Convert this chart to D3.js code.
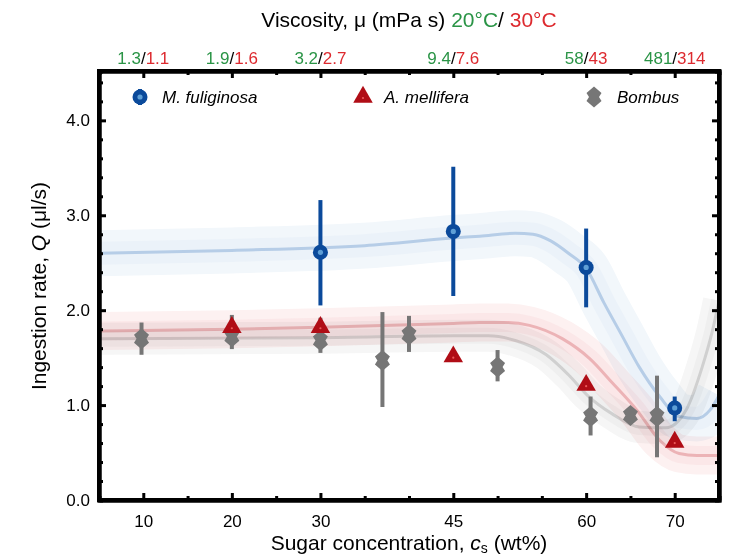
<!DOCTYPE html>
<html>
<head>
<meta charset="utf-8">
<script src="https://cdn.jsdelivr.net/npm/d3@7"></script>
<style>
  body { margin: 0; background: #fff; }
  text { font-family: "Liberation Sans", Arial, sans-serif; }
</style>
</head>
<body>
<script>
// chart values
var xTicks = [10, 20, 30, 45, 60, 70];
var xMinor = [15, 25, 35, 40, 50, 55, 65];
var yTicks = [0, 1, 2, 3, 4];
var visc20 = ["1.3", "1.9", "3.2", "9.4", "58", "481"];
var visc30 = ["1.1", "1.6", "2.7", "7.6", "43", "314"];

// M. fuliginosa
var fulConc = [30, 45, 60, 70];
var fulRate = [2.61, 2.83, 2.45, 0.97];
var fulLo = [2.05, 2.15, 2.03, 0.83];
var fulHi = [3.16, 3.51, 2.86, 1.09];

// A. mellifera
var melConc = [20, 30, 45, 60, 70];
var melRate = [1.82, 1.82, 1.51, 1.21, 0.61];

// Bombus
var bomConc = [9.8, 20, 30, 37, 40, 50, 60.5, 65, 68];
var bomRate = [1.70, 1.72, 1.68, 1.47, 1.74, 1.40, 0.88, 0.89, 0.88];
var bomLo = [1.53, 1.59, 1.55, 0.98, 1.56, 1.25, 0.68, 0.84, 0.45];
var bomHi = [1.87, 1.95, 1.92, 1.98, 1.94, 1.58, 1.09, 0.94, 1.31];

// fitted curves
var fulFitX = [5, 20, 35, 45, 48, 52, 54, 56, 58, 60, 62, 64, 66, 68.3, 70.5, 72.5, 74, 75];
var fulFitY = [2.60, 2.63, 2.68, 2.76, 2.78, 2.81, 2.80, 2.73, 2.60, 2.44, 2.08, 1.74, 1.40, 1.09, 0.88, 0.86, 0.95, 1.10];
var melFitX = [5, 20, 30, 45, 48, 51, 53.6, 57.3, 60.4, 63, 65.7, 68.3, 70.5, 72.5, 75];
var melFitY = [1.78, 1.80, 1.82, 1.86, 1.87, 1.87, 1.84, 1.70, 1.49, 1.23, 0.95, 0.63, 0.49, 0.47, 0.47];
var bomFitX = [5, 30, 45, 49, 52, 55.5, 58, 60.3, 62.9, 66, 69, 71.3, 73.1, 74.2, 75];
var bomFitY = [1.70, 1.71, 1.73, 1.73, 1.68, 1.53, 1.32, 1.09, 0.91, 0.77, 0.76, 0.95, 1.40, 1.76, 2.10];

var blue = "#0b4a9b", red = "#b00d16", gray = "#767676";
var green = "#2a9446", tred = "#dd2a2f";

var width = 736, height = 558;
var plotL = 99, plotR = 719, plotT = 71, plotB = 500;

var svg = d3.select("body").append("svg")
    .attr("width", width)
    .attr("height", height);

var x = d3.scaleLinear().domain([5, 75]).range([plotL, plotR]);
var y = d3.scaleLinear().domain([0, 4.52]).range([plotB, plotT]);

svg.append("clipPath").attr("id", "plot")
  .append("rect")
    .attr("x", plotL).attr("y", plotT)
    .attr("width", plotR - plotL).attr("height", plotB - plotT);

// fits with confidence bands
var line = d3.line().x(d => x(d[0])).y(d => y(d[1])).curve(d3.curveMonotoneX);
var fits = [
  {xs: fulFitX, ys: fulFitY, outer: "#f2f7fb", inner: "#ebf2f9", col: "#b6cde7", w: 46},
  {xs: melFitX, ys: melFitY, outer: "#fdf1f1", inner: "#fbe7e8", col: "#ecb3b6", w: 38},
  {xs: bomFitX, ys: bomFitY, outer: "#f6f6f6", inner: "#efefef", col: "#d0d0d0", w: 32}
];
var fitG = svg.append("g").attr("clip-path", "url(#plot)");
fits.forEach(function(f) {
  var pts = f.xs.map((v, i) => [v, f.ys[i]]);
  var g = fitG.append("g").style("mix-blend-mode", "multiply");
  g.append("path").attr("d", line(pts)).attr("fill", "none")
    .attr("stroke", f.outer).attr("stroke-width", f.w);
  g.append("path").attr("d", line(pts)).attr("fill", "none")
    .attr("stroke", f.inner).attr("stroke-width", f.w * 0.5);
  g.append("path").attr("d", line(pts)).attr("fill", "none")
    .attr("stroke", f.col).attr("stroke-width", 3);
});

// axes
function axisStyle(g) {
  g.select(".domain").attr("stroke", "#000").attr("stroke-width", 4);
  g.selectAll(".tick line").attr("stroke", "#000").attr("stroke-width", 3);
  g.selectAll(".tick text").attr("fill", "#000").style("font-size", "17px")
    .style("font-family", "'Liberation Sans', Arial, sans-serif");
}

svg.append("g").attr("transform", "translate(0," + plotB + ")")
  .call(d3.axisBottom(x).tickValues(xMinor).tickSize(-4).tickFormat(""))
  .call(axisStyle);
svg.append("g").attr("transform", "translate(0," + plotB + ")")
  .call(d3.axisBottom(x).tickValues(xTicks).tickSizeInner(-7).tickSizeOuter(0).tickPadding(15))
  .call(axisStyle);

svg.append("g").attr("transform", "translate(0," + plotT + ")")
  .call(d3.axisTop(x).tickValues(xMinor).tickSize(-4).tickFormat(""))
  .call(axisStyle);
svg.append("g").attr("transform", "translate(0," + plotT + ")")
  .call(d3.axisTop(x).tickValues(xTicks).tickSizeInner(-7).tickSizeOuter(0).tickFormat(""))
  .call(axisStyle);

var yMinor = d3.range(0.2, 4.5, 0.2).filter(v => Math.abs(v - Math.round(v)) > 0.05);
svg.append("g").attr("transform", "translate(" + plotL + ",0)")
  .call(d3.axisLeft(y).tickValues(yMinor).tickSize(-4).tickFormat(""))
  .call(axisStyle);
svg.append("g").attr("transform", "translate(" + plotL + ",0)")
  .call(d3.axisLeft(y).tickValues(yTicks).tickSizeInner(-7).tickSizeOuter(0)
    .tickPadding(9).tickFormat(d3.format(".1f")))
  .call(axisStyle);
svg.append("g").attr("transform", "translate(" + plotR + ",0)")
  .call(d3.axisRight(y).tickValues(yMinor).tickSize(-4).tickFormat(""))
  .call(axisStyle);
svg.append("g").attr("transform", "translate(" + plotR + ",0)")
  .call(d3.axisRight(y).tickValues(yTicks).tickSizeInner(-7).tickSizeOuter(0).tickFormat(""))
  .call(axisStyle);

svg.append("rect")
    .attr("x", plotL).attr("y", plotT)
    .attr("width", plotR - plotL).attr("height", plotB - plotT)
    .attr("fill", "none").attr("stroke", "#000").attr("stroke-width", 4);

// top viscosity labels
var topLab = svg.append("g").selectAll("text").data(xTicks).join("text")
    .attr("x", d => x(d)).attr("y", 64)
    .style("font-size", "17px");
topLab.append("tspan").attr("fill", green).text((d, i) => visc20[i]);
topLab.append("tspan").attr("fill", "#000").text("/");
topLab.append("tspan").attr("fill", tred).text((d, i) => visc30[i]);
// centre the slash on the tick
topLab.each(function(d) {
  var w20 = this.childNodes[0].getComputedTextLength();
  var ws = this.childNodes[1].getComputedTextLength();
  d3.select(this).attr("x", x(d) - w20 - ws / 2);
});

// titles
var title = svg.append("text").attr("x", (plotL + plotR) / 2).attr("y", 27)
    .attr("text-anchor", "middle").style("font-size", "21px");
title.append("tspan").attr("fill", "#000").text("Viscosity, \u03bc (mPa s) ");
title.append("tspan").attr("fill", green).text("20\u00b0C");
title.append("tspan").attr("fill", "#000").text("/ ");
title.append("tspan").attr("fill", tred).text("30\u00b0C");

var xt = svg.append("text").attr("x", (plotL + plotR) / 2).attr("y", 550)
    .attr("text-anchor", "middle").style("font-size", "21px");
xt.append("tspan").text("Sugar concentration, ");
xt.append("tspan").style("font-style", "italic").text("c");
xt.append("tspan").attr("dy", 3).style("font-size", "14px").text("s");
xt.append("tspan").attr("dy", -3).text(" (wt%)");

var yt = svg.append("text").attr("transform", "translate(46,286) rotate(-90)")
    .attr("text-anchor", "middle").style("font-size", "21px");
yt.append("tspan").text("Ingestion rate, ");
yt.append("tspan").style("font-style", "italic").text("Q");
yt.append("tspan").text(" (\u03bcl/s)");

// markers
var diamondPath = "M0,-10.5L7.5,-4L5,0L7.5,4L0,10.5L-7.5,4L-5,0L-7.5,-4Z";
var tri = d3.symbol(d3.symbolTriangle, 165)();

function drawBlue(g, cx, cy) {
  g.append("circle").attr("cx", cx).attr("cy", cy).attr("r", 7.5).attr("fill", blue);
  g.append("circle").attr("cx", cx).attr("cy", cy).attr("r", 2.6).attr("fill", "#5e9fd6");
}
function drawRed(g, cx, cy) {
  g.append("path").attr("d", tri).attr("transform", "translate(" + cx + "," + cy + ")").attr("fill", red);
  g.append("circle").attr("cx", cx).attr("cy", cy + 1).attr("r", 1.1).attr("fill", "#ec5a5a");
}
function drawGray(g, cx, cy) {
  g.append("path").attr("d", diamondPath).attr("transform", "translate(" + cx + "," + cy + ")").attr("fill", gray);
}

var marks = svg.append("g");
bomConc.forEach(function(c, i) {
  marks.append("line").attr("x1", x(c)).attr("x2", x(c))
    .attr("y1", y(bomLo[i])).attr("y2", y(bomHi[i]))
    .attr("stroke", gray).attr("stroke-width", 4);
  drawGray(marks, x(c), y(bomRate[i]));
});
melConc.forEach(function(c, i) {
  drawRed(marks, x(c), y(melRate[i]));
});
fulConc.forEach(function(c, i) {
  marks.append("line").attr("x1", x(c)).attr("x2", x(c))
    .attr("y1", y(fulLo[i])).attr("y2", y(fulHi[i]))
    .attr("stroke", blue).attr("stroke-width", 4);
  drawBlue(marks, x(c), y(fulRate[i]));
});

// legend
var leg = svg.append("g");
var legY = 97;
leg.append("line").attr("x1", 140).attr("x2", 140).attr("y1", legY - 8).attr("y2", legY + 8)
  .attr("stroke", blue).attr("stroke-width", 4);
drawBlue(leg, 140, legY);
drawRed(leg, 363, legY);
drawGray(leg, 594, legY);
[["M. fuliginosa", 162], ["A. mellifera", 384], ["Bombus", 617]].forEach(function(d) {
  leg.append("text").attr("x", d[1]).attr("y", legY + 6)
    .style("font-size", "17px").style("font-style", "italic").text(d[0]);
});
</script>
</body>
</html>
